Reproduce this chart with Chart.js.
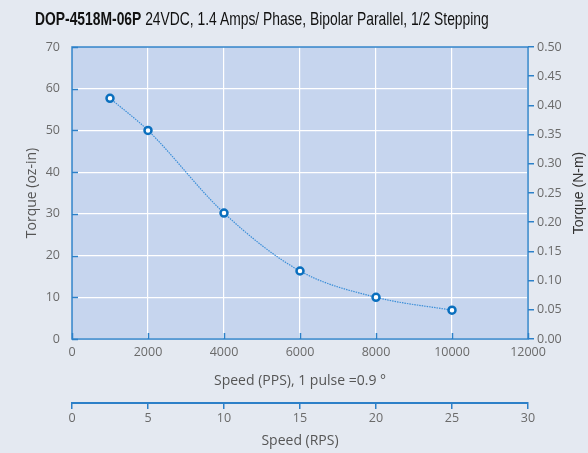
<!DOCTYPE html>
<html>
<head>
<meta charset="utf-8">
<script src="https://cdn.jsdelivr.net/npm/chart.js@4"></script>
<style>
  html, body { margin: 0; padding: 0; background: #e4e9f1; }
  #wrap { position: relative; width: 588px; height: 453px; overflow: hidden; }
  #title { position: absolute; left: 35px; top: 8px; font-family: "Liberation Sans", Arial, sans-serif;
           font-size: 18.5px; line-height: 22px; color: #111; white-space: nowrap; transform-origin: left top; }
  #title b { font-weight: bold; }
</style>
</head>
<body>
<div id="wrap">
  <div id="title"><b>DOP-4518M-06P</b> 24VDC, 1.4 Amps/ Phase, Bipolar Parallel, 1/2 Stepping</div>
  <canvas id="myChart" width="588" height="453"></canvas>
</div>
<script>
const speedPPS = [1000, 2000, 4000, 6000, 8000, 10000];
const torqueOzIn = [57.7, 50.0, 30.2, 16.3, 10.0, 6.9];

const blue = '#2c80c8';
const grey = '#6a6a6a';
const tickFont = { family: 'Open Sans', size: 12.5 };

// titulo condensado (no hay fuente narrow)
const title = document.getElementById('title');
title.style.transform = 'scaleX(' + (454 / title.offsetWidth) + ')';

// fondo del area de grafica + marco + ticks hacia dentro
const plotBg = {
  id: 'plotBg',
  beforeDraw(chart) {
    const { ctx, chartArea: a } = chart;
    ctx.save();
    ctx.fillStyle = '#c6d5ee';
    ctx.fillRect(a.left, a.top, a.right - a.left, a.bottom - a.top);
    ctx.restore();
  },
  afterDraw(chart) {
    const { ctx, chartArea: a, scales } = chart;
    ctx.save();
    ctx.strokeStyle = blue;
    ctx.lineWidth = 1.5;
    ctx.strokeRect(a.left, a.top, a.right - a.left, a.bottom - a.top);
    scales.y.ticks.forEach(t => {
      const py = Math.round(scales.y.getPixelForValue(t.value)) + 0.5;
      ctx.beginPath(); ctx.moveTo(a.left, py); ctx.lineTo(a.left + 6, py); ctx.stroke();
    });
    scales.x.ticks.forEach(t => {
      const px = Math.round(scales.x.getPixelForValue(t.value)) + 0.5;
      ctx.beginPath(); ctx.moveTo(px, a.bottom); ctx.lineTo(px, a.bottom - 6); ctx.stroke();
    });
    // titulo eje derecho (de abajo hacia arriba)
    ctx.fillStyle = '#333';
    ctx.font = '14px "Liberation Sans", Arial, sans-serif';
    ctx.translate(579, (a.top + a.bottom) / 2);
    ctx.rotate(-Math.PI / 2);
    ctx.textAlign = 'center';
    ctx.textBaseline = 'middle';
    ctx.fillText('Torque (N-m)', 0, 0);
    ctx.restore();
  }
};

const ctx = document.getElementById('myChart');

new Chart(ctx, {
  type: 'line',
  data: {
    datasets: [{
      label: 'Torque',
      data: speedPPS.map((s, i) => ({ x: s, y: torqueOzIn[i] })),
      xAxisID: 'x',
      yAxisID: 'y',
      borderColor: '#3c8fd8',
      borderWidth: 1.2,
      borderDash: [1.5, 1],
      cubicInterpolationMode: 'monotone',
      pointRadius: 3.5,
      pointBorderWidth: 2.5,
      pointBorderColor: '#0a6fbe',
      pointBackgroundColor: '#fff'
    }]
  },
  options: {
    responsive: false,
    animation: false,
    layout: { padding: { top: 47, left: 0, right: 0, bottom: 0 } },
    plugins: { legend: { display: false }, tooltip: { enabled: false } },
    scales: {
      x: {
        type: 'linear', position: 'bottom', min: 0, max: 12000,
        ticks: { stepSize: 2000, color: grey, font: tickFont, padding: 6, maxRotation: 0,
                 callback: v => String(v) },
        grid: { color: '#ffffff', lineWidth: 1.2, drawTicks: false },
        border: { display: false },
        title: { display: true, text: 'Speed (PPS), 1 pulse =0.9 °', color: '#555',
                 font: { family: 'Open Sans', size: 14 }, padding: { top: 4, bottom: 14 } },
        afterFit(s) { s.height = 64; }
      },
      x2: {
        type: 'linear', position: 'bottom', min: 0, max: 30,
        ticks: { stepSize: 5, color: grey, font: tickFont, padding: 2, maxRotation: 0 },
        grid: { display: true, drawOnChartArea: false, drawTicks: true, tickLength: 6, color: blue, lineWidth: 1.5 },
        border: { display: true, color: blue, width: 2 },
        title: { display: true, text: 'Speed (RPS)', color: '#555',
                 font: { family: 'Open Sans', size: 14 }, padding: { top: 4, bottom: 4 } },
        afterFit(s) { s.height = 50; }
      },
      y: {
        type: 'linear', position: 'left', min: 0, max: 70,
        ticks: { stepSize: 10, color: grey, font: tickFont, padding: 12 },
        grid: { color: '#ffffff', lineWidth: 1.2, drawTicks: false },
        border: { display: false },
        title: { display: true, text: 'Torque (oz-in)', color: '#555',
                 font: { family: 'Open Sans', size: 14 }, padding: { top: 24, bottom: 0 } },
        afterFit(s) { s.width = 72; }
      },
      y2: {
        type: 'linear', position: 'right', min: 0, max: 0.5,
        ticks: { stepSize: 0.05, color: grey, font: tickFont, padding: 3,
                 callback: v => v.toFixed(2) },
        grid: { display: true, drawOnChartArea: false, drawTicks: true, tickLength: 6, color: blue, lineWidth: 1.5 },
        border: { display: false },
        afterFit(s) { s.width = 60; }
      }
    }
  },
  plugins: [plotBg]
});
</script>
</body>
</html>
